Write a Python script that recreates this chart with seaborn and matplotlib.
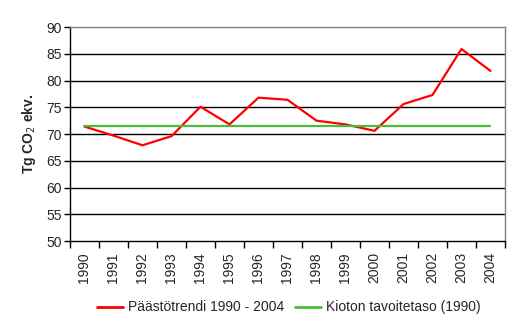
import numpy as np
import pandas as pd
import matplotlib
matplotlib.use('Agg')
import matplotlib.pyplot as plt
import seaborn as sns

# ── Data ──────────────────────────────────────────────────────────────────────
years = ['1990', '1991', '1992', '1993', '1994', '1995', '1996', '1997',
         '1998', '1999', '2000', '2001', '2002', '2003', '2004']
emissions = [71.4, 69.7, 67.9, 69.6, 75.1, 71.8, 76.8, 76.4,
             72.5, 71.8, 70.6, 75.6, 77.3, 85.9, 81.8]
kyoto_target = [71.5] * len(years)
y_ticks = [50, 55, 60, 65, 70, 75, 80, 85, 90]

df = pd.DataFrame({
    'x': np.arange(len(years)),
    'Päästötrendi 1990 - 2004': emissions,
    'Kioton tavoitetaso (1990)': kyoto_target,
}).melt(id_vars='x', var_name='series', value_name='value')

# ── Plot ──────────────────────────────────────────────────────────────────────
sns.set_style('white')
plt.rcParams['font.family'] = ['Liberation Sans', 'DejaVu Sans']

fig = plt.figure(figsize=(5.2, 3.26), dpi=100)
ax = fig.add_axes([0.1346, 0.2607, 0.8365, 0.6563])

for y in y_ticks[1:-1]:
    ax.axhline(y, color='black', lw=1, zorder=1)

sns.lineplot(data=df, x='x', y='value', hue='series',
             palette=['#ff0000', '#4cbb3c'], linewidth=1.6, ax=ax, zorder=3)
ax.get_lines()[-1].set_linewidth(2.2)

ax.set_xlim(-0.5, len(years) - 0.5)
ax.set_ylim(50, 90)
ax.set_yticks(y_ticks)
ax.set_xticks(np.arange(len(years)))
ax.set_xticklabels(years, rotation=90)
ax.set_xticks(np.arange(len(years) + 1) - 0.5, minor=True)
ax.tick_params(axis='x', which='major', length=0, pad=8, labelsize=10)
ax.tick_params(axis='x', which='minor', length=5, width=1, color='black',
               direction='out', bottom=True)
ax.tick_params(axis='y', length=4, width=1, color='black', direction='out',
               left=True, labelsize=10, pad=2)
ax.set_xlabel('')
ax.set_ylabel('Tg CO$_2$ ekv.', fontsize=10, fontweight='bold', labelpad=6)

for side in ['left', 'bottom']:
    ax.spines[side].set_color('black')
    ax.spines[side].set_linewidth(1)
for side in ['top', 'right']:
    ax.spines[side].set_color('#808080')
    ax.spines[side].set_linewidth(1)

handles, labels = ax.get_legend_handles_labels()
leg = ax.legend(handles, labels, loc='center', bbox_to_anchor=(0.555, 0.057),
                bbox_transform=fig.transFigure, ncol=2, frameon=False,
                fontsize=10, handlelength=1.9, columnspacing=0.8,
                handletextpad=0.3)
for lh in leg.get_lines():
    lh.set_linewidth(2)

fig.savefig('out.png', dpi=100)
